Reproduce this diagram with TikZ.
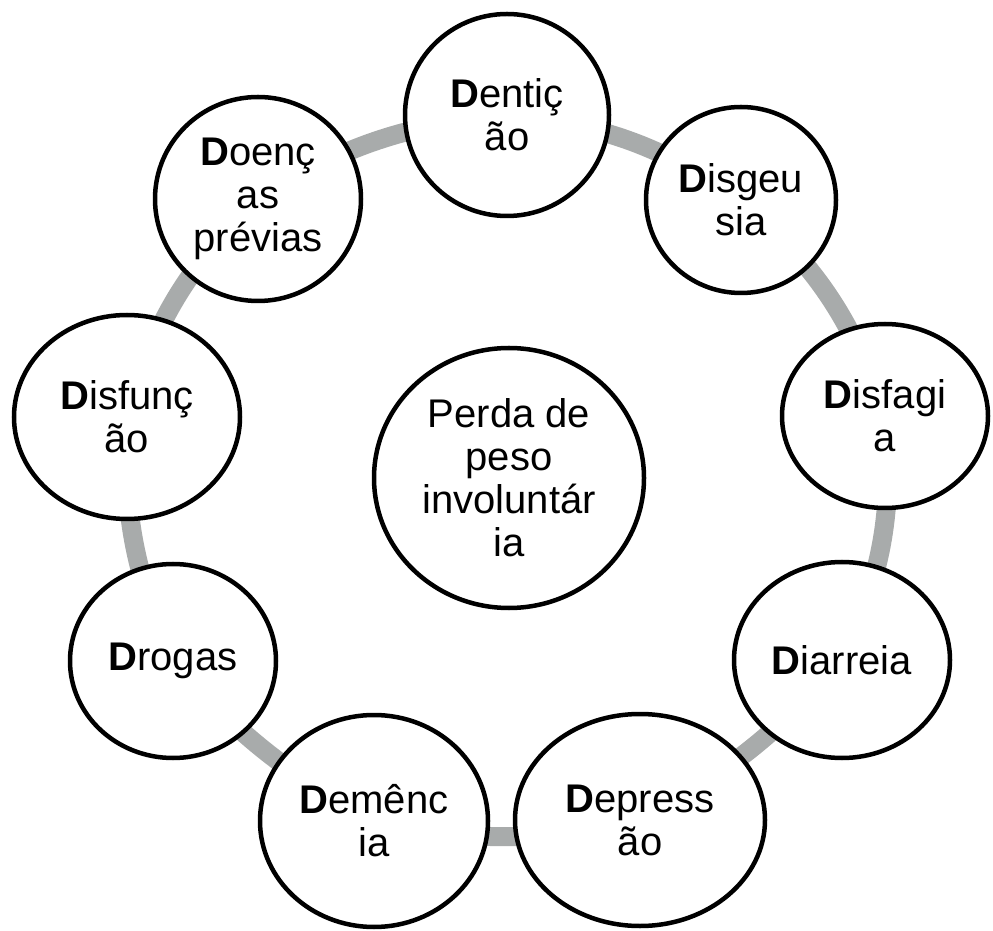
\documentclass[tikz,border=0pt]{standalone}
\usepackage{fontspec}
\setmainfont{Liberation Sans}
\usetikzlibrary{shapes.geometric,backgrounds}
\definecolor{ringgray}{RGB}{168,171,171}
\tikzset{
  cause/.style={ellipse, draw=black, line width=4.5pt, fill=white,
    inner sep=0pt, align=center, font=\fontsize{40}{43}\selectfont},
  ringlink/.style={draw=ringgray, line width=19pt},
}
\begin{document}
\begin{tikzpicture}[x=1pt,y=1pt]
\useasboundingbox (0,0) rectangle (993,930);

% central topic
\node[cause, minimum width=270pt, minimum height=260pt] (perda) at (509,452)
  {Perda de\\peso\\involuntár\\ia};

% the nine causes, clockwise from the top
\node[cause, minimum width=204pt, minimum height=202pt] (denticao) at (507,815)
  {\textbf{D}entiç\\ão};
\node[cause, minimum width=190pt, minimum height=186pt] (disgeusia) at (741,730)
  {\textbf{D}isgeu\\sia};
\node[cause, minimum width=206pt, minimum height=184pt] (disfagia) at (885,514)
  {\textbf{D}isfagi\\a};
\node[cause, minimum width=216pt, minimum height=196pt] (diarreia) at (842,270)
  {\textbf{D}iarreia};
\node[cause, minimum width=250pt, minimum height=212pt] (depressao) at (640,110)
  {\textbf{D}epress\\ão};
\node[cause, minimum width=228pt, minimum height=212pt] (demencia) at (374,109)
  {\textbf{D}emênc\\ia};
\node[cause, minimum width=206pt, minimum height=194pt] (drogas) at (173,269)
  {\textbf{D}rogas};
\node[cause, minimum width=226pt, minimum height=204pt] (disfuncao) at (127,513)
  {\textbf{D}isfunç\\ão};
\node[cause, minimum width=206pt, minimum height=204pt] (doencas) at (258,731)
  {\textbf{D}oenç\\as\\prévias};

% grey ring linking neighbouring causes
\begin{pgfonlayer}{background}
\draw[ringlink] (denticao.center)  to[bend left=14] (disgeusia.center);
\draw[ringlink] (disgeusia.center) to[bend left=15] (disfagia.center);
\draw[ringlink] (disfagia.center)  to[bend left=15] (diarreia.center);
\draw[ringlink] (diarreia.center)  to[bend left=10] (depressao.center);
\draw[ringlink] (depressao.center) to[bend left=12] (demencia.center);
\draw[ringlink] (demencia.center)  to[bend left=10] (drogas.center);
\draw[ringlink] (drogas.center)    to[bend left=13] (disfuncao.center);
\draw[ringlink] (disfuncao.center) to[bend left=15] (doencas.center);
\draw[ringlink] (doencas.center)   to[bend left=13] (denticao.center);
\end{pgfonlayer}
\end{tikzpicture}
\end{document}
